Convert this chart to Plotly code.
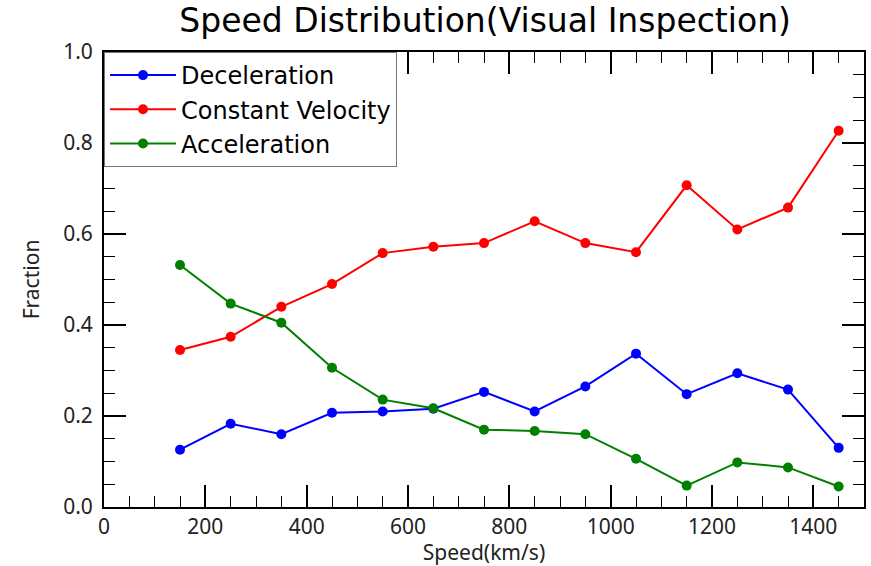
import plotly.graph_objects as go

speed = [150, 250, 350, 450, 550, 650, 750, 850, 950, 1050, 1150, 1250, 1350, 1450]
deceleration = [0.126, 0.183, 0.160, 0.207, 0.210, 0.216, 0.253, 0.210, 0.265, 0.337, 0.248, 0.294, 0.258, 0.130]
constant_velocity = [0.345, 0.374, 0.440, 0.490, 0.558, 0.572, 0.580, 0.628, 0.580, 0.560, 0.707, 0.610, 0.658, 0.827]
acceleration = [0.532, 0.447, 0.405, 0.306, 0.236, 0.217, 0.170, 0.167, 0.160, 0.106, 0.047, 0.098, 0.087, 0.045]

series = [("Deceleration", deceleration, "#0000ff"),
          ("Constant Velocity", constant_velocity, "#ff0000"),
          ("Acceleration", acceleration, "#008000")]

fig = go.Figure()
for name, vals, col in series:
    fig.add_trace(go.Scatter(x=speed, y=vals, name=name, mode="lines+markers",
                             line=dict(color=col, width=2),
                             marker=dict(color=col, size=10)))

tickfont = dict(family="Noto Sans", size=21, color="#222")
titlefont = dict(family="Noto Sans", size=21, color="#222")
common = dict(showgrid=False, zeroline=False, showline=True, linecolor="#000", linewidth=2,
              mirror="allticks", ticks="inside", ticklen=22, tickwidth=1.5, tickcolor="#000",
              tickfont=tickfont)
fig.update_xaxes(range=[0, 1500], dtick=200, tick0=0,
                 minor=dict(ticks="inside", ticklen=11, dtick=50, tickcolor="#000", tickwidth=1.2),
                 title=dict(text="Speed(km/s)", font=titlefont, standoff=6),
                 **common)
fig.update_yaxes(range=[0, 1.0], dtick=0.2, tick0=0, tickformat=".1f", ticklabelstandoff=5,
                 minor=dict(ticks="inside", ticklen=11, dtick=0.05, tickcolor="#000", tickwidth=1.2),
                 title=dict(text="Fraction", font=titlefont, standoff=18),
                 **common)

fig.update_layout(
    width=871, height=566,
    margin=dict(l=104, r=5, t=52, b=56),
    paper_bgcolor="white", plot_bgcolor="white",
    title=dict(text="Speed Distribution(Visual Inspection)", x=0.557, xanchor="center",
               y=0.984, yanchor="top",
               font=dict(family="DejaVu Sans", size=33, color="#000")),
    legend=dict(x=0, y=1, xanchor="left", yanchor="top",
                bgcolor="white", bordercolor="#777", borderwidth=1,
                font=dict(family="DejaVu Sans", size=24, color="#000"),
                itemwidth=66, tracegroupgap=0),
    showlegend=True,
)

fig.write_html("out.html")
